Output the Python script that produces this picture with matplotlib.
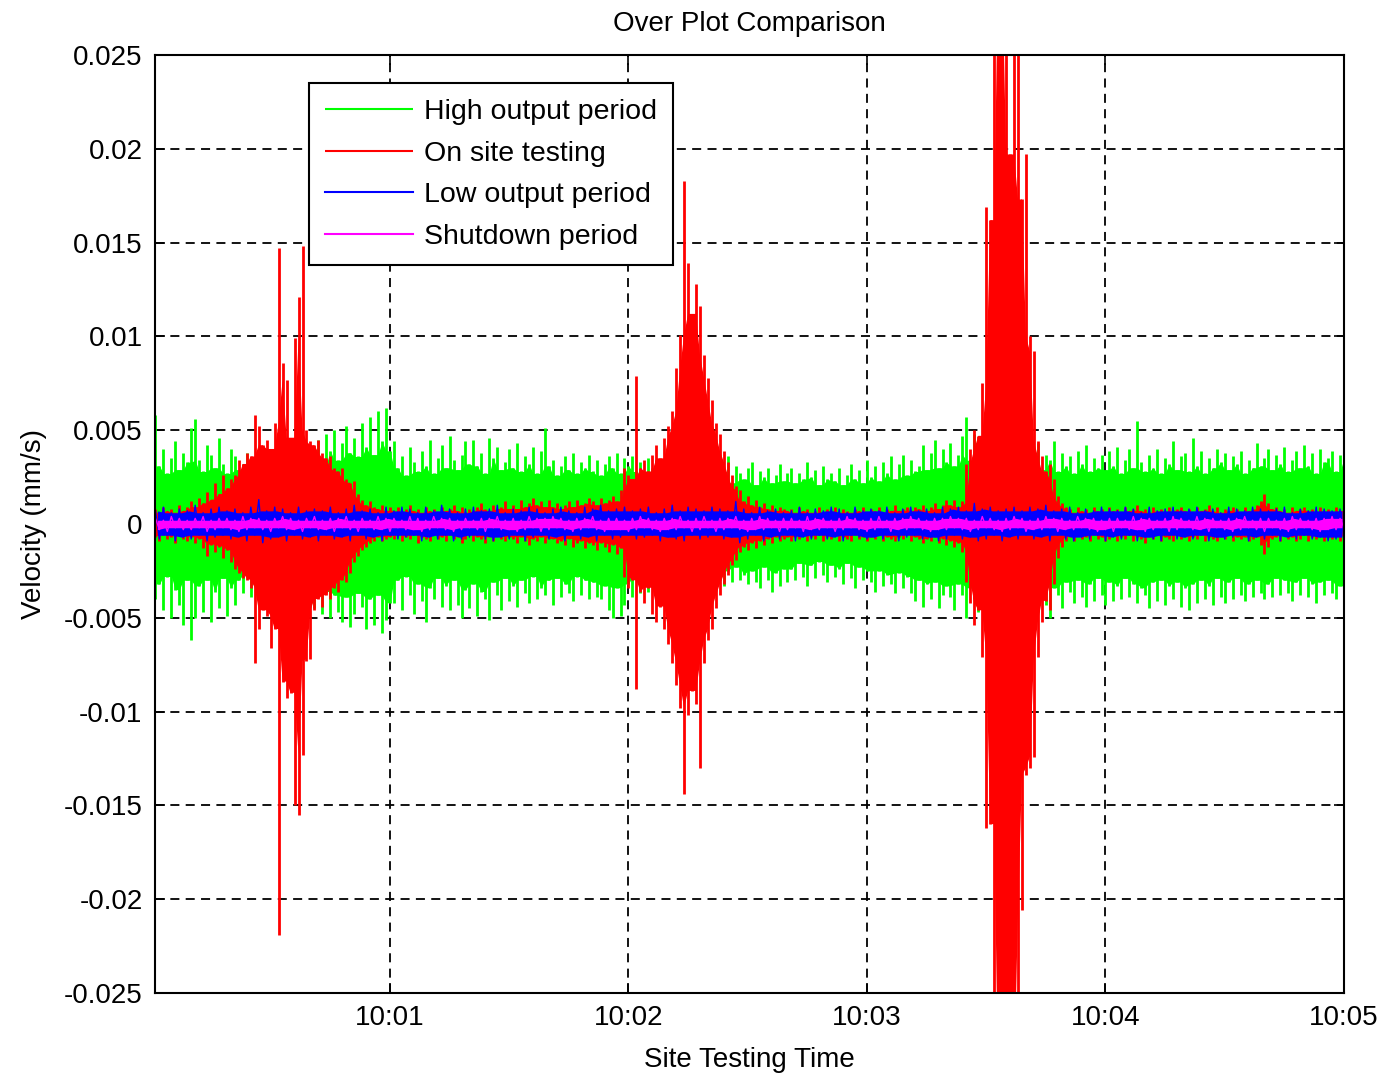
import numpy as np
import pandas as pd
import matplotlib
matplotlib.use("Agg")
import matplotlib.pyplot as plt

plt.rcParams['font.family'] = ['Liberation Sans', 'DejaVu Sans']

# peak velocities in um/s, one positive (hi) and one negative (lo) peak per sample
# green / red: 1 s samples, blue / magenta: 2 s samples, seconds after 10:00:00
t_1s = np.arange(1, 301)
t_2s = np.arange(1, 300, 2)

high_hi = [
    5.8, 3.1, 4.0, 2.7, 3.5, 4.4, 2.9, 3.8, 3.3, 5.1,
    5.6, 3.4, 2.8, 4.2, 3.7, 3.0, 4.6, 3.2, 2.7, 4.0,
    3.6, 2.9, 3.2, 3.8, 2.6, 3.4, 3.0, 2.5, 3.5, 2.8,
    3.3, 2.6, 3.7, 3.0, 3.4, 3.9, 2.8, 4.0, 3.2, 4.2,
    3.5, 4.5, 3.2, 4.8, 3.9, 5.0, 3.4, 4.3, 5.2, 3.8,
    4.6, 3.6, 5.4, 4.1, 5.7, 3.7, 6.0, 4.4, 6.2, 3.9,
    4.4, 3.0, 3.6, 2.6, 4.1, 3.3, 2.8, 3.9, 3.1, 4.5,
    2.7, 3.5, 4.2, 3.0, 4.7, 3.4, 2.9, 3.7, 4.4, 3.2,
    4.5, 3.1, 3.8, 2.7, 4.6, 3.5, 4.1, 2.9, 3.3, 4.0,
    3.0, 4.3, 2.8, 3.6, 3.2, 4.1, 2.7, 3.9, 5.1, 3.1,
    3.4, 2.6, 3.1, 3.6, 2.9, 3.8, 2.7, 3.3, 3.0, 3.7,
    2.8, 3.4, 2.6, 3.2, 3.6, 3.0, 3.8, 2.7, 3.5, 3.1,
    3.6, 2.8, 3.3, 2.6, 3.5, 3.0, 3.4, 2.7, 3.2, 2.6,
    3.0, 2.4, 2.8, 3.2, 2.6, 3.3, 2.2, 2.9, 2.5, 3.2,
    3.5, 2.3, 2.9, 2.6, 3.6, 2.2, 3.1, 2.7, 2.4, 3.0,
    3.3, 2.1, 2.8, 2.5, 3.0, 2.2, 2.6, 3.2, 2.3, 2.7,
    3.0, 2.2, 2.7, 2.4, 3.3, 2.5, 2.9, 2.1, 3.1, 2.4,
    2.7, 2.3, 3.0, 2.1, 2.6, 3.2, 2.4, 2.9, 2.2, 3.4,
    2.5, 3.1, 2.3, 3.3, 2.7, 3.6, 2.4, 3.2, 3.7, 2.6,
    3.4, 2.8, 3.1, 4.2, 2.9, 3.8, 4.5, 3.0, 4.0, 3.3,
    4.3, 3.1, 3.7, 4.7, 5.7, 3.4, 4.8, 3.2, 4.4, 3.6,
    4.5, 3.3, 4.0, 2.9, 3.6, 4.1, 3.0, 3.8, 3.4, 2.8,
    4.6, 3.2, 4.3, 2.9, 3.7, 3.4, 4.4, 2.8, 3.8, 3.1,
    3.6, 2.7, 3.9, 3.2, 4.2, 2.8, 3.5, 3.0, 3.7, 2.9,
    3.9, 3.1, 4.1, 2.7, 3.4, 4.0, 3.0, 5.5, 3.3, 2.8,
    3.7, 3.0, 4.0, 2.7, 3.5, 3.2, 4.4, 2.9, 3.6, 3.8,
    2.8, 4.6, 3.1, 3.9, 2.7, 3.5, 3.0, 4.0, 3.3, 3.8,
    2.9, 3.6, 3.2, 3.9, 2.7, 3.4, 3.0, 4.3, 3.1, 3.5,
    4.0, 2.9, 3.7, 3.2, 4.1, 2.8, 3.4, 3.9, 3.0, 4.2,
    3.1, 3.8, 2.7, 4.0, 3.3, 3.5, 3.9, 2.8, 3.7, 3.5,
]
high_lo = [
    -4.0, -3.2, -4.6, -2.8, -5.0, -3.5, -4.3, -5.4, -3.0, -6.2,
    -5.0, -3.3, -4.7, -3.0, -5.2, -3.6, -4.5, -2.9, -4.9, -3.4,
    -4.3, -3.0, -3.7, -2.7, -3.9, -3.2, -3.5, -2.6, -3.8, -2.9,
    -3.6, -2.8, -3.9, -3.1, -4.0, -3.3, -4.2, -3.0, -4.4, -3.5,
    -4.5, -3.4, -4.8, -3.6, -5.0, -3.8, -4.7, -5.2, -3.9, -5.5,
    -4.8, -3.7, -4.4, -5.6, -4.0, -5.4, -3.8, -5.8, -5.1, -4.2,
    -4.2, -3.0, -4.6, -2.8, -3.8, -4.8, -3.2, -4.1, -5.2, -3.4,
    -4.0, -2.9, -4.4, -3.3, -4.6, -3.0, -4.3, -5.0, -3.5, -4.5,
    -3.2, -4.9, -3.6, -4.0, -5.1, -3.1, -3.8, -4.6, -2.9, -4.1,
    -3.3, -4.4, -3.0, -3.7, -4.2, -2.8, -4.0, -3.4, -3.8, -3.0,
    -4.3, -2.9, -3.9, -3.2, -3.7, -4.1, -2.8, -3.8, -3.0, -4.0,
    -3.1, -3.9, -4.0, -3.3, -4.6, -5.0, -3.4, -4.9, -4.3, -3.2,
    -3.9, -2.8, -3.7, -3.1, -3.6, -2.7, -3.5, -3.0, -3.4, -2.6,
    -3.3, -2.5, -3.2, -2.8, -3.1, -3.4, -2.4, -3.2, -2.6, -3.0,
    -3.2, -2.4, -3.0, -3.3, -2.5, -3.1, -2.3, -3.0, -2.7, -3.2,
    -2.5, -3.1, -3.4, -2.3, -3.0, -3.6, -2.6, -3.3, -2.4, -3.1,
    -2.4, -3.0, -2.1, -2.8, -3.3, -2.2, -2.9, -2.0, -2.7, -3.1,
    -2.2, -2.8, -2.4, -3.2, -2.1, -2.9, -3.4, -2.3, -3.0, -2.5,
    -3.1, -3.6, -2.5, -3.3, -2.7, -3.2, -3.7, -2.6, -3.4, -2.8,
    -3.7, -4.1, -3.0, -4.4, -3.2, -4.0, -3.1, -4.5, -3.8, -3.3,
    -3.9, -4.6, -3.2, -3.8, -5.0, -3.4, -4.0, -4.7, -3.1, -4.4,
    -3.3, -4.6, -3.5, -4.3, -3.1, -4.5, -3.6, -4.8, -4.2, -3.2,
    -4.4, -3.3, -4.7, -3.0, -4.3, -5.0, -3.4, -3.8, -4.5, -3.1,
    -3.6, -4.2, -3.0, -3.9, -4.4, -3.2, -4.1, -2.9, -3.8, -4.3,
    -3.1, -4.1, -3.3, -4.0, -2.9, -3.9, -3.2, -4.2, -3.4, -3.8,
    -4.5, -3.1, -4.1, -3.0, -4.3, -3.3, -4.0, -3.1, -4.4, -3.4,
    -4.6, -3.2, -4.2, -3.0, -4.0, -3.3, -4.3, -2.9, -3.9, -4.2,
    -3.1, -4.0, -2.9, -3.8, -4.1, -3.2, -3.9, -3.0, -3.7, -4.0,
    -3.2, -3.9, -2.9, -3.8, -3.0, -3.7, -4.1, -3.1, -3.8, -2.9,
    -3.9, -3.2, -4.2, -3.1, -3.8, -3.0, -3.7, -4.0, -3.3, -3.6,
]

test_hi = [
    0.8, 0.6, 0.9, 0.7, 0.8, 0.6, 1.0, 0.7, 0.9, 1.2,
    0.9, 1.4, 1.1, 1.7, 1.3, 2.2, 1.6, 2.6, 1.9, 2.4,
    2.6, 3.4, 3.2, 3.8, 3.6, 5.8, 5.2, 4.2, 4.5, 4.0,
    5.4, 14.7, 8.6, 7.7, 4.6, 9.9, 12.1, 14.8, 5.0, 4.4,
    4.2, 4.5, 3.8, 3.5, 3.6, 3.0, 2.8, 3.0, 2.4, 2.2,
    2.3, 1.6, 1.3, 1.0, 1.2, 0.9, 0.8, 1.0, 0.7, 0.9,
    0.7, 0.9, 0.6, 0.8, 1.0, 0.7, 0.8, 0.6, 0.9, 0.7,
    0.8, 0.6, 0.9, 0.7, 0.8, 1.0, 0.7, 0.9, 0.6, 0.8,
    0.7, 0.9, 1.1, 0.8, 0.7, 1.0, 0.8, 0.9, 1.2, 0.8,
    1.0, 0.8, 1.3, 0.9, 1.1, 1.4, 1.0, 1.2, 0.9, 1.3,
    0.9, 1.1, 0.8, 1.0, 1.2, 0.9, 1.3, 1.0, 1.1, 1.4,
    1.2, 1.0, 1.4, 1.1, 1.3, 1.5, 1.2, 1.8, 3.0, 2.6,
    2.4, 7.9, 3.0, 3.4, 2.8, 3.7, 4.2, 3.5, 4.6, 5.2,
    6.0, 8.3, 10.1, 18.3, 13.9, 11.2, 12.8, 11.6, 9.0, 7.8,
    6.6, 5.4, 4.8, 3.9, 3.3, 2.6, 2.0, 1.8, 1.2, 1.5,
    1.0, 1.3, 0.9, 1.1, 0.8, 1.0, 0.7, 0.9, 0.8, 0.7,
    0.8, 0.6, 0.9, 0.7, 0.8, 0.6, 0.7, 0.9, 0.6, 0.8,
    0.7, 0.9, 0.6, 0.8, 0.7, 0.6, 0.8, 0.7, 0.9, 0.6,
    0.8, 0.7, 0.9, 0.6, 0.8, 0.7, 1.0, 0.7, 0.8, 0.9,
    0.7, 0.9, 0.8, 1.0, 0.7, 0.9, 1.1, 0.8, 1.0, 1.3,
    1.0, 1.3, 0.9, 1.2, 3.2, 4.0, 5.0, 4.7, 7.5, 16.9,
    16.2, 30.0, 30.0, 30.0, 30.0, 19.7, 30.0, 30.0, 17.3, 19.7,
    10.0, 9.2, 4.4, 3.6, 2.8, 3.2, 2.4, 1.5, 1.1, 0.9,
    0.8, 0.6, 0.9, 0.7, 0.8, 0.6, 0.9, 0.7, 0.8, 0.6,
    0.9, 0.7, 0.8, 0.6, 0.9, 0.7, 0.8, 1.0, 0.7, 0.8,
    0.6, 0.9, 0.7, 0.8, 0.6, 0.9, 0.7, 0.8, 0.9, 0.7,
    0.8, 0.6, 0.9, 0.7, 0.8, 1.0, 0.7, 0.9, 0.6, 0.8,
    0.7, 0.9, 0.8, 0.6, 0.9, 0.7, 0.8, 1.0, 1.2, 1.6,
    1.1, 0.8, 0.9, 0.7, 0.8, 0.6, 0.9, 0.7, 0.8, 0.9,
    0.7, 0.8, 0.6, 0.9, 0.7, 0.8, 0.6, 0.9, 0.7, 0.8,
]
test_lo = [
    -0.7, -0.9, -0.6, -0.8, -0.7, -1.0, -0.6, -0.8, -0.9, -0.7,
    -1.0, -0.8, -1.3, -1.7, -1.1, -1.5, -1.2, -1.8, -1.4, -2.0,
    -2.4, -2.6, -2.9, -3.0, -3.4, -7.4, -5.6, -4.6, -4.9, -6.6,
    -5.6, -21.9, -8.4, -9.3, -9.0, -15.0, -15.5, -12.3, -7.3, -7.2,
    -4.6, -4.0, -4.4, -3.8, -4.0, -3.4, -3.6, -3.0, -3.1, -2.6,
    -2.0, -1.7, -1.4, -1.2, -1.0, -0.9, -0.7, -0.9, -0.8, -0.7,
    -0.8, -0.6, -0.9, -0.7, -0.8, -0.6, -1.0, -0.7, -0.8, -0.9,
    -0.6, -0.8, -0.7, -0.9, -0.6, -0.8, -0.7, -1.0, -0.8, -0.6,
    -0.9, -0.7, -0.8, -1.0, -0.7, -0.9, -0.6, -0.8, -0.9, -0.7,
    -0.8, -1.0, -0.7, -0.9, -1.1, -0.8, -0.9, -0.7, -1.0, -0.8,
    -0.8, -1.0, -0.9, -1.1, -0.8, -1.2, -1.0, -0.9, -1.3, -1.0,
    -1.1, -1.4, -1.0, -1.2, -1.5, -1.1, -1.6, -1.3, -2.8, -3.4,
    -3.0, -8.8, -3.6, -4.2, -3.4, -4.8, -5.2, -4.4, -5.6, -6.4,
    -7.4, -8.6, -9.8, -14.4, -10.2, -8.9, -9.6, -13.0, -7.4, -6.2,
    -5.6, -4.5, -3.8, -3.2, -2.7, -2.2, -1.9, -1.5, -1.2, -1.4,
    -1.0, -1.3, -0.9, -1.1, -0.8, -1.0, -0.7, -0.9, -0.8, -0.7,
    -0.9, -0.7, -0.8, -0.6, -0.9, -0.7, -0.8, -0.6, -0.9, -0.7,
    -0.8, -0.6, -0.9, -0.7, -0.8, -0.9, -0.6, -0.8, -0.7, -0.9,
    -0.7, -0.8, -0.6, -0.9, -0.7, -0.8, -0.9, -0.7, -0.8, -0.6,
    -0.9, -0.7, -0.8, -1.0, -0.8, -0.9, -0.7, -1.0, -0.8, -1.1,
    -0.9, -1.2, -1.0, -1.5, -3.1, -4.2, -5.4, -4.6, -7.1, -16.2,
    -16.0, -30.0, -30.0, -30.0, -30.0, -30.0, -30.0, -30.0, -20.6, -13.4,
    -13.0, -12.4, -7.1, -5.2, -4.1, -4.6, -3.2, -1.8, -1.2, -0.9,
    -0.7, -0.9, -0.6, -0.8, -0.7, -0.9, -0.6, -0.8, -0.7, -0.9,
    -0.8, -0.6, -0.9, -0.7, -0.8, -0.6, -0.9, -0.7, -0.8, -1.0,
    -0.7, -0.8, -0.6, -0.9, -0.7, -0.8, -0.9, -0.6, -0.8, -0.7,
    -0.9, -0.7, -0.8, -0.6, -0.9, -0.7, -0.8, -0.9, -0.7, -0.8,
    -0.6, -0.9, -0.7, -0.8, -0.7, -0.9, -0.8, -0.7, -1.1, -1.6,
    -1.2, -0.8, -0.7, -0.9, -0.6, -0.8, -0.7, -0.9, -0.8, -0.6,
    -0.9, -0.7, -0.8, -0.6, -0.9, -0.7, -0.8, -0.6, -0.9, -0.7,
]

low_hi = [
    0.7, 0.9, 0.6, 0.8, 0.7, 1.0, 0.6, 0.8, 0.9, 0.7,
    0.8, 0.6, 0.9, 1.3, 0.7, 0.9, 0.8, 0.6, 0.9, 0.7,
    0.8, 0.7, 0.9, 0.6, 0.8, 1.0, 0.7, 0.8, 0.6, 0.9,
    0.7, 0.9, 0.8, 0.6, 0.9, 0.7, 1.0, 0.8, 0.6, 0.8,
    0.9, 0.7, 0.8, 1.0, 0.6, 0.8, 0.7, 0.9, 0.8, 0.6,
    0.8, 0.9, 0.7, 0.6, 0.9, 0.8, 1.0, 0.7, 0.8, 0.9,
    0.7, 0.8, 0.9, 0.6, 0.8, 1.0, 0.7, 0.9, 0.8, 0.7,
    0.9, 0.8, 0.7, 1.2, 0.8, 0.6, 0.9, 0.7, 0.8, 0.6,
    0.7, 0.9, 0.6, 0.8, 0.7, 0.9, 0.8, 0.6, 0.9, 0.7,
    0.8, 0.7, 0.9, 0.6, 0.8, 0.9, 0.7, 0.8, 0.6, 0.9,
    0.8, 0.9, 0.7, 1.1, 0.8, 0.9, 0.7, 0.8, 0.9, 0.7,
    0.9, 0.8, 1.0, 0.7, 0.8, 0.9, 0.6, 0.8, 0.7, 0.9,
    0.8, 0.7, 0.9, 0.8, 0.6, 0.9, 0.7, 0.8, 0.9, 0.7,
    0.8, 0.9, 0.7, 0.8, 0.6, 0.9, 0.8, 0.7, 0.9, 0.8,
    0.7, 0.8, 0.9, 0.6, 0.8, 0.7, 0.9, 0.8, 0.7, 0.8,
]
low_lo = [
    -0.8, -0.6, -0.9, -0.7, -0.8, -0.6, -0.9, -0.7, -0.6, -0.8,
    -0.7, -0.9, -0.6, -1.0, -0.8, -0.7, -0.9, -0.6, -0.8, -0.7,
    -0.9, -0.6, -0.8, -0.7, -0.9, -0.6, -0.8, -0.7, -0.9, -0.6,
    -0.8, -0.7, -0.6, -0.9, -0.7, -0.8, -0.6, -0.9, -0.8, -0.7,
    -0.6, -0.8, -0.9, -0.7, -0.8, -0.6, -0.9, -0.7, -0.6, -0.8,
    -0.7, -0.9, -0.6, -0.8, -0.7, -0.9, -0.6, -0.8, -0.7, -0.6,
    -0.8, -0.7, -0.6, -0.9, -0.7, -0.8, -0.9, -0.6, -0.8, -0.7,
    -0.6, -0.8, -0.7, -1.0, -0.8, -0.6, -0.9, -0.7, -0.8, -0.6,
    -0.9, -0.7, -0.8, -0.6, -0.8, -0.7, -0.9, -0.6, -0.7, -0.8,
    -0.7, -0.8, -0.6, -0.9, -0.7, -0.6, -0.8, -0.7, -0.9, -0.8,
    -0.6, -0.8, -0.7, -0.9, -0.8, -0.6, -0.9, -0.7, -0.8, -0.6,
    -0.8, -0.7, -0.9, -0.6, -0.8, -0.9, -0.7, -0.8, -0.6, -0.9,
    -0.7, -0.8, -0.6, -0.9, -0.7, -0.8, -0.9, -0.6, -0.8, -0.7,
    -0.8, -0.6, -0.9, -0.7, -0.8, -0.7, -0.6, -0.9, -0.7, -0.8,
    -0.6, -0.9, -0.7, -0.8, -0.6, -0.8, -0.7, -0.9, -0.8, -0.7,
]

shut_hi = [
    0.3, 0.2, 0.4, 0.3, 0.2, 0.3, 0.4, 0.2, 0.3, 0.3,
    0.2, 0.4, 0.3, 0.3, 0.2, 0.3, 0.4, 0.3, 0.2, 0.3,
    0.4, 0.2, 0.3, 0.3, 0.4, 0.2, 0.3, 0.2, 0.4, 0.3,
    0.3, 0.2, 0.4, 0.3, 0.2, 0.4, 0.3, 0.3, 0.2, 0.3,
    0.2, 0.3, 0.3, 0.4, 0.2, 0.3, 0.2, 0.4, 0.3, 0.3,
    0.4, 0.3, 0.2, 0.3, 0.3, 0.4, 0.2, 0.3, 0.3, 0.2,
    0.3, 0.4, 0.3, 0.2, 0.3, 0.3, 0.4, 0.2, 0.3, 0.4,
    0.2, 0.3, 0.3, 0.4, 0.2, 0.3, 0.4, 0.3, 0.2, 0.3,
    0.3, 0.2, 0.4, 0.3, 0.3, 0.2, 0.3, 0.4, 0.3, 0.2,
    0.3, 0.4, 0.2, 0.3, 0.3, 0.4, 0.3, 0.2, 0.3, 0.3,
    0.4, 0.3, 0.3, 0.2, 0.4, 0.3, 0.2, 0.3, 0.4, 0.3,
    0.2, 0.3, 0.4, 0.3, 0.3, 0.2, 0.4, 0.3, 0.3, 0.2,
    0.3, 0.3, 0.2, 0.4, 0.3, 0.3, 0.2, 0.3, 0.4, 0.3,
    0.2, 0.4, 0.3, 0.3, 0.2, 0.3, 0.3, 0.4, 0.2, 0.3,
    0.3, 0.2, 0.3, 0.4, 0.3, 0.2, 0.3, 0.3, 0.4, 0.3,
]
shut_lo = [
    -0.3, -0.4, -0.2, -0.3, -0.3, -0.2, -0.4, -0.3, -0.2, -0.3,
    -0.4, -0.3, -0.2, -0.3, -0.4, -0.2, -0.3, -0.3, -0.4, -0.2,
    -0.3, -0.3, -0.4, -0.2, -0.3, -0.4, -0.2, -0.3, -0.3, -0.4,
    -0.2, -0.3, -0.3, -0.4, -0.3, -0.2, -0.3, -0.4, -0.3, -0.2,
    -0.3, -0.4, -0.2, -0.3, -0.3, -0.4, -0.3, -0.2, -0.4, -0.3,
    -0.2, -0.3, -0.4, -0.3, -0.2, -0.3, -0.4, -0.3, -0.3, -0.4,
    -0.3, -0.2, -0.3, -0.4, -0.3, -0.3, -0.2, -0.4, -0.3, -0.2,
    -0.4, -0.3, -0.2, -0.3, -0.4, -0.3, -0.3, -0.2, -0.4, -0.3,
    -0.2, -0.4, -0.3, -0.3, -0.2, -0.4, -0.3, -0.2, -0.3, -0.4,
    -0.3, -0.2, -0.4, -0.3, -0.3, -0.2, -0.3, -0.4, -0.3, -0.3,
    -0.2, -0.3, -0.4, -0.3, -0.2, -0.3, -0.4, -0.3, -0.2, -0.4,
    -0.3, -0.3, -0.2, -0.4, -0.3, -0.3, -0.2, -0.3, -0.4, -0.3,
    -0.4, -0.2, -0.3, -0.3, -0.4, -0.3, -0.2, -0.4, -0.3, -0.2,
    -0.3, -0.3, -0.4, -0.2, -0.3, -0.4, -0.3, -0.2, -0.3, -0.4,
    -0.2, -0.3, -0.4, -0.3, -0.2, -0.3, -0.4, -0.3, -0.3, -0.2,
]

series = [
    ("High output period", t_1s, high_hi, high_lo, "#00ff00", "bars"),
    ("On site testing", t_1s, test_hi, test_lo, "#ff0000", "bars"),
    ("Low output period", t_2s, low_hi, low_lo, "#0000ff", "swing"),
    ("Shutdown period", t_2s, shut_hi, shut_lo, "#ff00ff", "swing"),
]

x_ticks = [60, 120, 180, 240, 300]
x_labels = ["10:01", "10:02", "10:03", "10:04", "10:05"]
y_ticks = [-0.025, -0.02, -0.015, -0.01, -0.005, 0, 0.005, 0.01, 0.015, 0.02, 0.025]
y_labels = ["-0.025", "-0.02", "-0.015", "-0.01", "-0.005", "0",
            "0.005", "0.01", "0.015", "0.02", "0.025"]

fig = plt.figure(figsize=(13.83, 10.73), dpi=100)
ax = fig.add_axes([0.1121, 0.0746, 0.8597, 0.8741])
ax.set_xlim(0.9, 300)
ax.set_ylim(-0.025, 0.025)

# width of one second on screen, in points
sec_pt = ax.get_position().width * fig.get_figwidth() * 72 / (300 - 0.9)


def draw_trace(ax, t, hi, lo, color, style, label, z):
    hi = np.asarray(hi) / 1000.0   # um/s -> mm/s
    lo = np.asarray(lo) / 1000.0
    dt = t[1] - t[0]
    # dense core of the trace, where neighbouring swings overlap
    core_hi = pd.Series(hi).rolling(3, center=True, min_periods=1).min()
    core_lo = pd.Series(lo).rolling(3, center=True, min_periods=1).max()
    if style == "bars":
        ax.fill_between(t, core_lo, core_hi, color=color, lw=0, zorder=z)
        # one vertical stroke per sample, peak to peak
        return ax.vlines(t, lo, hi, colors=color, linewidth=dt * sec_pt * 0.7,
                         capstyle="butt", label=label, zorder=z)
    # signal swings between the positive and negative peak of each sample
    x = np.column_stack([t, t + dt / 2]).ravel()
    y = np.column_stack([hi, lo]).ravel()
    ax.fill_between(t + dt / 4, core_lo, core_hi, color=color, lw=0, zorder=z)
    line, = ax.plot(x, y, color=color, lw=1.0, label=label, zorder=z)
    return line


handles = []
for i, (label, t, hi, lo, color, style) in enumerate(series):
    handles.append(draw_trace(ax, t, hi, lo, color, style, label, 2 + i))

ax.set_xticks(x_ticks)
ax.set_xticklabels(x_labels)
ax.set_yticks(y_ticks)
ax.set_yticklabels(y_labels)

ax.grid(True, color="black", linestyle=(0, (5, 3.5)), linewidth=1.3)
for gl in ax.get_xgridlines() + ax.get_ygridlines():
    gl.set_zorder(1.5)

ax.tick_params(direction="in", length=7, width=1.2, labelsize=20, pad=9,
               top=True, right=True)
for sp in ax.spines.values():
    sp.set_linewidth(1.5)
    sp.set_zorder(10)

ax.set_title("Over Plot Comparison", fontsize=20, pad=17)
ax.set_xlabel("Site Testing Time", fontsize=20, labelpad=11)
ax.set_ylabel("Velocity (mm/s)", fontsize=20, labelpad=12)

leg = ax.legend(handles=handles, loc="upper left", bbox_to_anchor=(0.1295, 0.970),
                borderaxespad=0, fontsize=20.5, frameon=True, fancybox=False,
                framealpha=1, edgecolor="black", handlelength=3.1,
                handletextpad=0.4, labelspacing=0.55, borderpad=0.55)
leg.get_frame().set_linewidth(1.5)
leg.set_zorder(20)
for h in leg.legend_handles:
    h.set_linewidth(1.5)

fig.savefig("out.png", dpi=100)
